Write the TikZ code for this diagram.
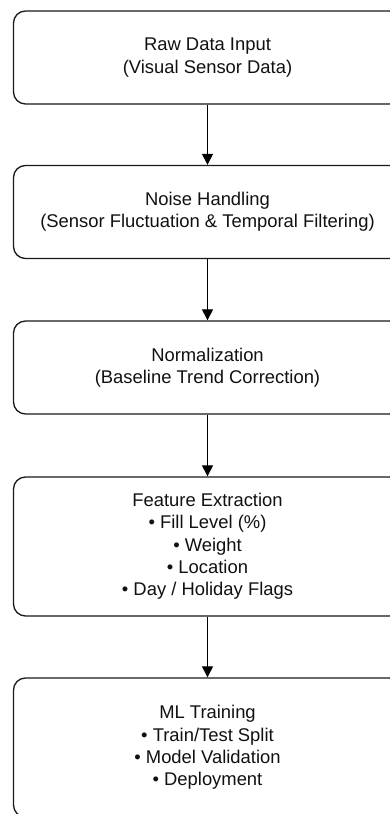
\documentclass[tikz,border=0pt]{standalone}
\usepackage{fontspec}
\setmainfont{Liberation Sans}
\usetikzlibrary{arrows.meta}
\definecolor{edgecol}{HTML}{1A1A1A}
\definecolor{txtcol}{HTML}{111111}
\tikzset{
  stagebox/.style={draw=edgecol, line width=1.3pt, rounded corners=12pt,
    minimum width=388pt, minimum height=93pt, align=center, fill=white,
    text=txtcol, font=\fontsize{18.4}{22.3}\selectfont, inner sep=0pt},
  flowarrow/.style={draw=black, line width=1.1pt,
    -{Triangle[length=11pt,width=11pt]}}
}
\begin{document}
\begin{tikzpicture}[x=1pt,y=1pt]
\useasboundingbox (0,0) rectangle (390,814);
\clip (0,0) rectangle (390,814);
\fill[white] (0,0) rectangle (390,814);
\node[stagebox] (raw) at (207.5,756.5) {Raw Data Input\\(Visual Sensor Data)};
\node[stagebox] (noise) at (207.5,602) {Noise Handling\\(Sensor Fluctuation \& Temporal Filtering)};
\node[stagebox] (norm) at (207.5,446.5) {Normalization\\(Baseline Trend Correction)};
\node[stagebox, minimum height=139pt] (feat) at (207.5,267.5) {Feature Extraction\\• Fill Level (\%)\\• Weight\\• Location\\• Day / Holiday Flags};
\node[stagebox, minimum height=139pt] (ml) at (207.5,66.5) {ML Training\\• Train/Test Split\\• Model Validation\\• Deployment};
\draw[flowarrow] (raw) -- (noise);
\draw[flowarrow] (noise) -- (norm);
\draw[flowarrow] (norm) -- (feat);
\draw[flowarrow] (feat) -- (ml);
\end{tikzpicture}
\end{document}
